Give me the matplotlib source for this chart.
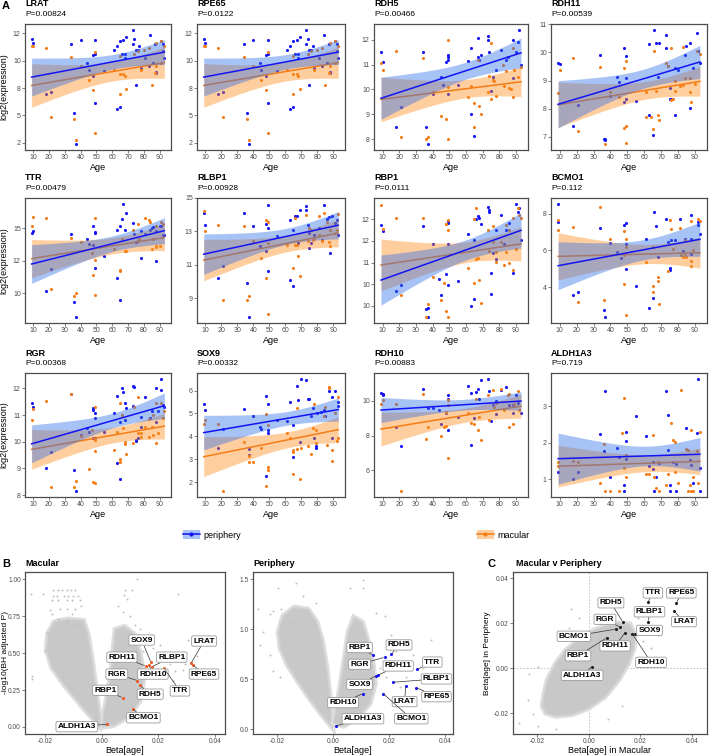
import numpy as np
import matplotlib
matplotlib.use("Agg")
import matplotlib.pyplot as plt
from matplotlib.patches import Patch, Polygon
from matplotlib.lines import Line2D

plt.rcParams['font.family'] = ['Liberation Sans', 'DejaVu Sans']
plt.rcParams['axes.unicode_minus'] = False

# ───────────────── data: age scatter panels (age, log2 expression) ─────────────────
LRAT_PERI = [(9,11.6),(10,11.3),(18,7.55),(21,7.7),(34,11.2),(36,6.2),(37,3.9),(40,11.5),(44,9.8),(45,9.3),
             (48,10.4),(48,8.9),(49,10.5),(49,11.5),(49,6.9),(55,9.25),(61,10.75),(63,11.1),(63,6.45),(65,11.4),
             (65,6.6),(66,10.5),(67,11.5),(68,10.45),(68,10.2),(69,11.7),(73,12.25),(73,11.2),(74,11.6),(75,10.8),
             (75,8.2),(76,10.75),(77,11.05),(78,9.45),(81,10.2),(83,9.6),(84,11.9),(86,9.85),(87,11.2),(88,9.2),
             (88,9.1),(91,11.45),(92,11.2),(92,10.7),(93,10.2)]
LRAT_MAC = [(9,11.1),(10,11.05),(18,10.95),(21,5.9),(34,10.25),(36,5.75),(37,4.2),(40,9.6),(45,8.55),(48,7.85),
            (49,10.6),(49,4.75),(61,9.3),(65,10.35),(65,9.0),(65,7.6),(67,9.0),(68,8.9),(69,7.9),(74,10.45),
            (76,10.7),(78,9.35),(80,10.75),(83,10.95),(85,8.2),(87,9.1),(88,11.3),(88,9.6),(91,9.8),(91,11.45),(93,11.1)]
RPE65_PERI = LRAT_PERI
RPE65_MAC = LRAT_MAC
RDH5_PERI = [(9,11.5),(10,11.1),(18,8.5),(21,9.3),(34,11.5),(36,8.5),(37,7.8),(40,9.8),(45,10.5),(46,10.2),
             (48,11.1),(49,11.4),(49,11.3),(49,11.2),(49,9.8),(55,10.2),(61,11.15),(63,11.65),(63,9.0),(65,8.15),
             (67,12.05),(67,11.3),(68,11.2),(69,11.4),(73,12.15),(73,12.0),(74,11.5),(75,9.95),(76,10.5),(78,10.8),
             (81,11.6),(84,11.2),(85,11.3),(88,12.0),(88,10.45),(90,11.5),(91,11.9),(92,12.4),(93,11.0)]
RDH5_MAC = [(9,11.05),(10,10.8),(18,11.55),(21,8.1),(34,11.25),(36,8.0),(37,8.1),(40,9.9),(45,8.95),(48,8.8),
            (49,12.0),(49,8.0),(49,10.1),(61,9.7),(63,10.15),(65,9.45),(65,8.5),(67,11.2),(68,9.35),(69,9.0),
            (73,9.9),(74,10.55),(75,11.85),(75,9.6),(76,10.4),(77,10.35),(78,9.75),(82,11.0),(83,10.15),(84,10.75),
            (86,10.05),(87,10.0),(88,9.7),(88,11.65),(89,10.8),(91,10.5),(93,10.9)]
RDH11_PERI = [(9,9.62),(10,9.58),(18,7.4),(21,8.14),(34,9.92),(36,6.92),(37,6.92),(37,6.9),(40,8.45),(44,9.14),
              (45,8.96),(48,10.16),(48,8.24),(49,9.86),(49,9.1),(49,8.33),(55,8.26),(63,10.28),(63,7.76),(65,7.07),
              (66,10.8),(67,10.34),(68,9.14),(69,10.34),(73,10.6),(73,10.16),(74,9.52),(75,8.72),(75,8.36),(76,8.33),
              (78,9.44),(78,7.78),(80,9.38),(84,9.9),(85,10.22),(87,10.32),(87,8.02),(89,9.44),(91,10.7),(92,10.04),(93,9.62)]
RDH11_MAC = [(9,8.57),(10,9.38),(18,9.8),(21,7.22),(34,9.47),(37,6.74),(40,8.6),(45,8.42),(48,9.46),(48,7.33),
             (49,7.37),(49,9.7),(49,6.8),(61,8.6),(61,7.72),(64,7.7),(65,7.27),(66,10.06),(67,8.62),(68,7.76),
             (69,7.6),(73,9.62),(74,9.52),(76,10.14),(76,8.3),(77,8.36),(78,8.98),(78,8.62),(81,8.8),(83,8.84),
             (83,10.18),(84,9.08),(87,9.08),(87,8.6),(88,8.24),(90,8.86),(91,10.06),(93,9.94)]
TTR_PERI = [(9,13.7),(10,13.8),(18,10.15),(21,11.5),(34,13.65),(36,9.45),(37,8.52),(44,13.35),(45,13.05),(48,14.15),
            (48,12.95),(49,13.75),(49,13.7),(49,11.55),(55,12.3),(63,13.9),(63,10.95),(65,14.15),(65,9.6),(66,14.55),
            (67,15.5),(68,13.9),(69,14.95),(73,14.33),(74,13.65),(75,13.15),(76,13.2),(78,13.85),(78,12.15),(81,13.65),
            (84,13.9),(85,14.0),(86,14.05),(88,11.95),(88,13.85),(90,14.1),(91,14.15),(92,13.55),(93,13.6)]
TTR_MAC = [(9,14.1),(10,14.7),(18,14.65),(21,10.25),(34,13.4),(36,9.85),(37,10.0),(40,13.15),(47,12.5),(48,11.1),
           (49,14.6),(49,12.05),(49,9.9),(61,12.7),(65,11.35),(65,11.4),(66,13.35),(68,12.6),(69,12.6),(73,13.9),
           (76,13.2),(76,14.25),(77,13.35),(81,14.65),(83,14.5),(84,14.35),(85,12.7),(86,13.35),(88,12.93),(88,12.85),
           (88,14.1),(90,12.9),(91,14.35),(92,14.25)]
RLBP1_PERI = [(9,14.1),(10,13.4),(18,10.2),(21,10.95),(34,14.1),(36,9.9),(37,7.85),(40,13.3),(44,12.1),(48,11.8),
              (48,13.45),(49,13.2),(49,14.6),(49,10.6),(55,12.7),(63,13.7),(63,10.1),(65,13.1),(65,9.75),(66,13.9),
              (67,13.9),(68,12.3),(69,14.3),(73,14.5),(73,14.3),(74,13.4),(75,12.9),(75,12.0),(76,12.3),(78,12.8),
              (81,13.2),(83,12.5),(84,14.6),(86,13.75),(87,13.85),(88,11.7),(89,13.9),(91,13.5),(92,13.7),(93,12.8)]
RLBP1_MAC = [(9,14.25),(10,13.05),(18,13.4),(21,8.9),(34,13.3),(36,8.9),(37,9.15),(40,12.4),(45,11.4),(48,10.2),
             (48,13.7),(49,13.55),(49,8.05),(49,12.3),(61,12.2),(65,10.8),(66,12.2),(66,13.8),(67,12.2),(68,11.5),
             (69,10.3),(73,14.0),(74,12.4),(75,13.2),(76,13.1),(77,12.5),(78,12.6),(81,13.9),(81,12.8),(83,12.4),
             (84,14.1),(86,13.55),(87,12.35),(88,12.1),(88,13.1),(91,12.9),(92,13.1),(93,14.05)]
RBP1_PERI = [(9,12.75),(10,12.46),(18,9.68),(21,9.97),(34,12.7),(36,8.86),(37,8.88),(37,8.47),(40,11.84),(44,10.25),
             (45,9.52),(48,10.47),(49,12.92),(49,12.83),(49,11.87),(49,9.97),(55,10.14),(61,12.3),(63,8.97),(65,9.32),
             (65,12.06),(66,13.0),(67,13.14),(68,13.07),(69,12.8),(73,13.57),(74,13.45),(74,13.32),(75,10.51),(75,9.55),
             (76,11.44),(78,12.52),(78,11.15),(81,13.19),(83,11.87),(84,12.52),(86,12.83),(88,10.51),(90,13.72),
             (91,13.32),(92,13.5),(93,12.04)]
RBP1_MAC = [(9,13.65),(10,12.54),(18,13.06),(21,9.52),(34,13.06),(36,8.47),(37,9.09),(40,10.33),(45,9.25),(47,10.05),
            (48,12.8),(48,12.77),(48,8.78),(49,12.95),(49,12.49),(49,8.5),(61,10.75),(65,13.03),(65,10.05),(66,13.5),
            (66,11.18),(67,11.2),(68,10.2),(69,9.14),(73,12.5),(74,11.53),(76,12.69),(76,11.95),(78,11.49),(78,11.02),
            (81,11.95),(83,10.9),(84,12.72),(84,11.49),(86,10.97),(86,12.49),(88,13.08),(88,10.67),(90,11.64),
            (91,13.54),(92,13.22),(93,13.08)]
BCMO1_PERI = [(9,8.55),(9,7.55),(18,3.6),(21,3.76),(34,7.2),(36,2.78),(37,2.36),(40,6.42),(44,5.9),(46,5.6),
              (48,7.4),(49,7.5),(49,6.36),(49,5.0),(55,4.04),(61,6.64),(63,2.85),(65,3.42),(66,8.1),(67,7.36),
              (68,5.64),(73,7.7),(74,6.45),(75,5.05),(75,4.95),(76,6.58),(78,6.55),(81,7.73),(83,5.96),(84,6.64),
              (88,7.96),(88,5.82),(88,6.6),(92,7.55),(92,7.4),(93,6.9)]
BCMO1_MAC = [(9,7.67),(9,7.13),(18,7.27),(21,3.18),(34,8.36),(36,3.3),(40,6.6),(48,5.76),(48,4.18),(48,7.04),
             (49,6.64),(49,2.51),(49,6.18),(61,5.36),(65,4.04),(65,3.73),(65,6.18),(68,4.58),(68,4.36),(69,3.1),
             (74,4.9),(75,7.64),(76,7.18),(77,6.1),(81,7.24),(82,5.73),(83,5.67),(84,6.58),(84,5.73),(85,5.67),
             (88,7.6),(88,5.42),(88,5.15),(89,6.0),(92,7.73),(93,7.6)]
RGR_PERI = [(9,11.46),(10,11.31),(18,9.0),(21,9.63),(34,11.78),(36,8.95),(37,8.14),(40,10.26),(44,10.5),(45,10.36),
            (48,11.25),(48,11.19),(48,10.13),(49,11.07),(49,10.88),(49,10.13),(55,10.36),(61,11.09),(63,11.71),(63,9.2),
            (65,8.6),(65,10.75),(66,12.0),(67,11.88),(68,11.44),(68,10.82),(69,11.25),(73,12.11),(73,11.34),(74,12.04),
            (75,10.07),(75,10.03),(76,10.13),(78,10.94),(78,10.57),(81,11.69),(84,10.88),(85,11.17),(88,12.02),
            (88,10.75),(89,11.17),(91,12.37),(91,11.94),(92,11.38),(93,11.29)]
RGR_MAC = [(9,10.82),(10,11.23),(18,11.53),(21,8.32),(34,11.81),(36,8.32),(37,8.53),(40,10.23),(45,8.97),(47,10.44),
           (48,8.51),(49,8.47),(49,11.29),(49,9.67),(49,10.07),(61,9.69),(63,10.38),(65,9.35),(65,9.26),(65,11.44),
           (66,11.0),(67,10.5),(68,10.0),(68,9.92),(69,9.53),(73,9.97),(74,11.32),(76,11.69),(76,10.32),(78,10.34),
           (78,10.19),(81,10.57),(83,10.19),(83,10.84),(85,10.57),(86,10.26),(86,11.0),(88,9.97),(88,11.44),
           (89,10.32),(91,11.44),(92,10.88),(93,11.17)]
SOX9_PERI = [(9,5.43),(10,5.13),(18,3.49),(21,4.31),(34,5.18),(37,3.2),(37,3.43),(40,4.88),(44,4.39),(45,4.33),
             (48,5.78),(48,2.27),(49,5.4),(49,4.28),(49,4.13),(55,4.7),(61,4.66),(63,5.51),(65,3.12),(65,4.48),
             (67,6.18),(68,5.6),(69,3.76),(70,6.52),(73,6.48),(74,5.63),(75,5.63),(76,4.88),(77,5.22),(78,3.91),
             (79,3.58),(79,3.5),(80,5.03),(82,5.07),(84,5.13),(85,4.88),(87,5.97),(89,5.73),(89,3.94),(91,5.97),
             (93,5.33),(93,5.52)]
SOX9_MAC = [(9,4.54),(10,4.73),(18,4.54),(21,1.6),(34,3.76),(37,2.87),(37,3.16),(40,2.9),(45,3.49),(48,4.99),
            (48,1.85),(49,2.67),(49,2.52),(49,4.51),(61,4.13),(63,3.91),(65,3.42),(65,3.31),(65,2.34),(67,5.22),
            (67,3.46),(69,2.12),(70,3.49),(74,3.58),(76,3.21),(77,4.36),(78,5.43),(79,4.28),(79,3.69),(84,4.88),
            (85,5.3),(86,3.61),(87,6.15),(87,6.12),(89,3.39),(89,2.94),(91,5.03),(92,3.81),(93,5.73),(93,3.91)]
RDH10_PERI = [(9,10.48),(10,10.38),(10,10.36),(18,8.48),(21,7.41),(34,10.7),(37,9.6),(40,9.62),(44,9.47),(45,8.67),
              (48,9.28),(49,10.36),(49,10.13),(49,8.32),(55,9.09),(61,10.84),(63,10.46),(63,7.47),(65,8.99),(66,10.51),
              (67,10.7),(68,10.13),(69,11.18),(73,11.28),(74,10.57),(75,8.86),(76,9.75),(78,9.98),(78,9.24),(81,10.61),
              (84,10.8),(86,9.75),(88,9.75),(88,9.31),(90,10.32),(91,9.89),(93,9.28)]
RDH10_MAC = [(9,9.85),(10,10.08),(18,9.85),(21,4.8),(34,10.38),(36,7.81),(37,8.51),(45,7.98),(47,8.48),(48,8.55),
             (48,9.37),(49,10.04),(49,9.75),(49,6.7),(61,9.31),(63,8.74),(65,8.7),(66,10.13),(67,8.32),(68,9.09),
             (69,7.75),(73,10.36),(74,8.93),(76,10.65),(77,9.66),(78,9.9),(81,10.67),(83,9.47),(85,10.32),(86,8.51),
             (86,10.38),(88,8.67),(89,9.85),(91,10.57),(92,9.5)]
ALDH1A3_PERI = [(9,1.21),(18,1.0),(21,1.21),(34,2.24),(36,1.77),(37,3.42),(40,1.07),(44,1.85),(45,1.6),(48,0.85),
                (48,0.67),(49,2.3),(49,2.05),(49,1.55),(55,2.74),(61,2.18),(63,1.35),(65,1.48),(65,1.27),(66,0.67),
                (67,1.07),(69,1.44),(73,3.42),(74,1.8),(74,2.75),(75,0.85),(75,0.67),(77,1.48),(79,1.41),(79,0.67),
                (85,2.41),(87,1.53),(88,1.39),(89,0.91),(91,2.27),(92,3.75),(93,1.32),(93,0.67)]
ALDH1A3_MAC = [(9,1.48),(9,1.35),(18,1.51),(21,1.48),(34,0.91),(36,1.96),(37,0.67),(40,0.67),(45,0.67),(47,2.27),
               (48,3.21),(48,1.3),(49,1.07),(49,1.66),(61,1.14),(63,1.14),(65,2.21),(66,1.05),(67,0.75),(68,1.48),
               (69,0.67),(73,0.85),(74,1.14),(76,2.53),(77,2.07),(78,2.01),(78,1.21),(80,0.91),(82,3.45),(85,1.83),
               (86,1.8),(86,0.67),(87,0.85),(88,0.67),(89,0.67),(88,2.36),(89,1.07),(91,1.77),(92,0.91),(93,2.3)]

GENES = ['LRAT', 'RPE65', 'RDH5', 'RDH11', 'TTR', 'RLBP1', 'RBP1', 'BCMO1',
         'RGR', 'SOX9', 'RDH10', 'ALDH1A3']
PVALS = ['P=0.00824', 'P=0.0122', 'P=0.00466', 'P=0.00539', 'P=0.00479', 'P=0.00928',
         'P=0.0111', 'P=0.112', 'P=0.00368', 'P=0.00332', 'P=0.00883', 'P=0.719']
YTICKS = [[12, 10, 8, 6, 4], [12, 10, 8, 6, 4], [12, 11, 10, 9, 8], [11, 10, 9, 8, 7],
          [14, 12, 10], [15, 13, 11, 9], [13, 12, 11, 10, 9], [8, 6, 4],
          [12, 11, 10, 9, 8], [6, 5, 4, 3, 2], [10, 8, 6], [3, 2, 1]]
YTICKLABELS = [['12', '10', '8', '5', '2'], ['12', '10', '8', '5', '2'], ['12', '11', '10', '9', '8'],
               ['11', '10', '9', '8', '7'], ['15', '12', '10'], ['15', '13', '11', '9'],
               ['12', '12', '11', '10', '10'], ['8', '6', '4'], ['12', '11', '10', '9', '8'],
               ['6', '5', '4', '3', '2'], ['10', '8', '6'], ['3', '2', '1']]
AGE_TICKS = [10, 20, 30, 40, 50, 60, 70, 80, 90]

# ───────────────── data: panel B / C (beta, -log10 p) ─────────────────
HL_GENES = ['LRAT', 'RPE65', 'SOX9', 'RDH11', 'RLBP1', 'RDH10', 'TTR', 'RGR', 'RDH5', 'RBP1', 'BCMO1', 'ALDH1A3']
MAC_BETA = [0.0315, 0.0321, 0.0173, 0.0155, 0.0176, 0.0167, 0.0220, 0.0126, 0.0135, 0.0074, 0.0110, 0.0020]
MAC_LOGP = [0.431, 0.420, 0.440, 0.413, 0.407, 0.418, 0.396, 0.314, 0.281, 0.198, 0.121, 0.018]
PER_BETA = [0.0260, 0.0298, 0.0155, 0.0161, 0.0215, 0.0107, 0.0302, 0.0185, 0.0209, 0.0143, 0.0179, 0.0010]
PER_LOGP = [0.430, 0.416, 0.536, 0.542, 0.470, 0.357, 0.600, 0.721, 0.753, 0.740, 0.357, 0.032]
C_MAC = [0.0330, 0.0339, 0.0178, 0.0140, 0.0231, 0.0169, 0.0229, 0.0121, 0.0131, 0.0070, 0.0105, 0.0013]
C_PER = [0.0254, 0.0290, 0.0152, 0.0157, 0.0207, 0.0152, 0.0294, 0.0183, 0.0207, 0.0135, 0.0174, 0.0007]

# dense grey clouds (outlines) and sparse background genes
MAC_CLOUD_L = [(-0.0006,0.0),(-0.007,0.14),(-0.013,0.28),(-0.0175,0.40),(-0.0195,0.52),(-0.019,0.63),
               (-0.0168,0.71),(-0.012,0.73),(-0.0065,0.72),(-0.0048,0.62),(-0.0032,0.42),(-0.0017,0.2),(-0.0003,0.02)]
MAC_CLOUD_R = [(0.0003,0.0),(0.0008,0.1),(0.0024,0.25),(0.0035,0.4),(0.0042,0.55),(0.0048,0.66),(0.008,0.68),
               (0.0112,0.63),(0.0135,0.5),(0.0148,0.34),(0.0135,0.18),(0.0095,0.07),(0.004,0.01)]
MAC_BG_X = [-0.0249,-0.0208,-0.0173,-0.0156,-0.0140,-0.0124,-0.0109,-0.0093,-0.0173,-0.0159,-0.0133,-0.0118,
            -0.0102,-0.0085,-0.0176,-0.0153,-0.0124,-0.0106,-0.0076,-0.0182,-0.0147,-0.0124,-0.0094,-0.0073,
            -0.0176,-0.0106,-0.0153,-0.0124,-0.0088,-0.0247,-0.0247,-0.0200,-0.0194,0.0082,0.0106,0.0124,
            0.0080,0.0088,0.0059,0.0076,0.0100,0.0268,0.0306,0.0335,0.0294,0.0286,0.0253,0.0241,0.0206,
            0.0182,0.0194,0.0224,0.0276,0.0229,0.0259,0.0182,0.0147,0.0165,0.0118,0.0135]
MAC_BG_Y = [0.903,0.903,0.930,0.930,0.930,0.930,0.930,0.930,0.890,0.890,0.890,0.890,0.890,0.890,0.859,
            0.859,0.859,0.859,0.859,0.793,0.798,0.802,0.802,0.820,0.765,0.765,0.732,0.710,0.688,0.347,0.325,
            0.512,0.644,0.930,0.930,1.000,0.897,0.864,0.820,0.776,0.754,0.903,0.589,0.479,0.424,0.385,0.314,
            0.424,0.556,0.534,0.490,0.457,0.501,0.358,0.380,0.336,0.512,0.622,0.688,0.666]
PER_CLOUD_L = [(-0.0002,0.016),(-0.0045,0.162),(-0.0088,0.325),(-0.0127,0.487),(-0.0163,0.649),(-0.0188,0.812),
               (-0.0195,0.974),(-0.0178,1.136),(-0.0138,1.22),(-0.0089,1.2),(-0.0058,1.07),(-0.0038,0.877),
               (-0.0023,0.617),(-0.001,0.292),(-0.0004,0.065)]
PER_CLOUD_R = [(0.0002,0.065),(0.0018,0.292),(0.0033,0.552),(0.0045,0.779),(0.0055,0.974),(0.0075,1.12),
               (0.0105,1.07),(0.0125,0.877),(0.0143,0.649),(0.015,0.455),(0.0132,0.26),(0.0088,0.114),(0.0038,0.032)]
PER_BG_X = [-0.0196,-0.0131,0.0060,0.0107,0.0107,-0.0107,-0.0060,-0.0214,-0.0185,-0.0226,-0.0155,0.0155,
            0.0185,0.0208,0.0226,0.0250,0.0286,0.0321,0.0351,0.0327,0.0226,0.0179,0.0167,0.0190,0.0238,
            0.0262,-0.0268,-0.0262,-0.0250,-0.0226,-0.0214,-0.0190]
PER_BG_Y = [1.412,1.461,1.412,1.494,1.412,1.331,1.266,1.185,1.201,1.153,1.071,1.169,1.136,0.942,0.779,
            0.682,0.747,0.617,0.893,0.341,0.227,0.357,0.617,0.519,0.422,0.519,1.201,0.844,0.974,0.747,0.584,0.519]
C_CLOUD = [(-0.0178,-0.017),(-0.0171,-0.0112),(-0.0159,-0.0054),(-0.0127,0.0019),(-0.0089,0.0077),
           (-0.0038,0.0128),(0.0013,0.0164),(0.0063,0.0186),(0.0114,0.02),(0.0159,0.0196),(0.0178,0.0149),
           (0.0175,0.0091),(0.0152,0.0019),(0.0114,-0.0054),(0.0063,-0.0126),(0.0,-0.0177),(-0.0063,-0.0206),
           (-0.0127,-0.0213),(-0.0165,-0.0199)]
C_BG_X = [-0.0235,-0.0216,-0.0197,-0.0267,-0.0127,0.0190,0.0216,0.0210,0.0241,0.0267,0.0178,-0.0038,
          -0.0076,0.0076,0.0127,-0.0229,-0.0197,-0.0070]
C_BG_Y = [-0.0141,-0.0206,-0.0257,-0.0242,-0.0271,0.0222,0.0186,0.0120,0.0091,0.0149,0.0265,0.0222,
          0.0178,-0.0228,-0.0170,-0.0025,0.0004,0.0265]

# label placement (layout, not data)
MAC_LAB = [(0.0361,0.582),(0.0361,0.358),(0.0141,0.589),(0.0071,0.473),(0.0247,0.473),(0.0180,0.358),
           (0.0276,0.244),(0.0053,0.358),(0.0171,0.222),(0.0012,0.248),(0.0147,0.062),(-0.0088,0.002)]
PER_LAB = [(0.0256,0.276),(0.0370,0.325),(0.0095,0.448),(0.0233,0.633),(0.0370,0.503),(0.0036,0.266),
           (0.0355,0.672),(0.0095,0.649),(0.0236,0.844),(0.0095,0.818),(0.0280,0.104),(0.0107,0.104)]
C_LAB = [(0.0368,0.0207),(0.0358,0.0335),(0.0235,0.0168),(0.0102,0.0099),(0.0235,0.0251),(0.0241,0.0026),
         (0.0248,0.0335),(0.0063,0.0217),(0.0086,0.0291),(-0.0041,0.0055),(-0.0057,0.0142),(-0.0025,-0.0032)]

# ───────────────── style ─────────────────
BLUE, ORANGE = '#1414f5', '#f47d18'
BLUE_FILL, ORANGE_FILL = '#2f6fe6', '#ff8c1a'
FRAME, TXT = '#4d4d4d', '#4d4d4d'
W, H = 709, 756

fig = plt.figure(figsize=(W/100, H/100), dpi=100)

def add_ax(l, t, r, b):
    return fig.add_axes([l/W, 1 - b/H, (r - l)/W, (b - t)/H])

def style(ax, size=5):
    for s in ax.spines.values():
        s.set_color(FRAME); s.set_linewidth(0.9)
    ax.tick_params(direction='out', length=2, width=0.5, color=FRAME,
                   labelsize=size, labelcolor=TXT, pad=1)

def ylab_at(ax, text, x_px, l, r, size=6.5):
    ax.set_ylabel(text, fontsize=size)
    ax.yaxis.set_label_coords((x_px - l) / (r - l), 0.5)

def fit_band(pts, xs):
    x = np.array([p[0] for p in pts], float); y = np.array([p[1] for p in pts], float)
    n = len(x); m, b = np.polyfit(x, y, 1)
    s = np.sqrt(((y - (b + m*x))**2).sum() / (n - 2))
    se = s * np.sqrt(1/n + (xs - x.mean())**2 / ((x - x.mean())**2).sum())
    yh = b + m*xs
    return yh, yh - 2.02*se, yh + 2.02*se

COLS = [(25, 171), (197, 345), (374, 528), (551, 707)]
ROWS = [(24, 150), (198, 323), (373, 497)]

for i, g in enumerate(GENES):
    peri, mac = globals()[g + '_PERI'], globals()[g + '_MAC']
    (l, r), (t, b) = COLS[i % 4], ROWS[i // 4]
    ax = add_ax(l, t, r, b); style(ax)
    xs = np.linspace(min(p[0] for p in peri + mac), max(p[0] for p in peri + mac), 80)
    ax.scatter([p[0] for p in peri], [p[1] for p in peri], s=5, c=BLUE, lw=0, zorder=2)
    ax.scatter([p[0] for p in mac], [p[1] for p in mac], s=5, c=ORANGE, lw=0, zorder=2)
    allv = [p[1] for p in peri + mac]
    for pts, fc, lc, z in ((mac, ORANGE_FILL, ORANGE, 3), (peri, BLUE_FILL, BLUE, 4)):
        yh, lo, hi = fit_band(pts, xs)
        ax.fill_between(xs, lo, hi, color=fc, alpha=0.42, lw=0, zorder=z)
        ax.plot(xs, yh, c=lc, lw=1.1, zorder=z)
        allv += list(lo) + list(hi)
    span = max(allv) - min(allv)
    ax.set_ylim(min(allv) - .05*span, max(allv) + .05*span)
    ax.set_xlim(4.8, 97.2)
    ax.set_xticks(AGE_TICKS)
    ax.set_yticks(YTICKS[i]); ax.set_yticklabels(YTICKLABELS[i])
    ax.set_xlabel('Age', fontsize=6.5, labelpad=1, color='black')
    if i % 4 == 0:
        ylab_at(ax, 'log2(expression)', 8, l, r)
    fig.text(l/W, 1 - (t - 20)/H, g, fontsize=6.5, fontweight='bold', va='center')
    fig.text(l/W, 1 - (t - 9)/H, PVALS[i], fontsize=6, va='center')

fig.text(2/W, 1 - 6/H, 'A', fontsize=8, fontweight='bold', va='center')

# legend
for label, fc, lc, x in (('periphery', BLUE_FILL, BLUE, 212), ('macular', ORANGE_FILL, ORANGE, 503)):
    h = (Patch(facecolor=fc, alpha=0.42, lw=0), Line2D([], [], color=lc, lw=1.1, marker='o', ms=2))
    fig.legend([h], [label], loc='center', bbox_to_anchor=(x/W, 1 - 535/H), frameon=False,
               fontsize=6.5, handlelength=1.9, handleheight=1.1, handletextpad=0.4, borderpad=0)

# ───────────────── panel B / C ─────────────────
def label_points(ax, xs, ys, labs, col):
    ax.scatter(xs, ys, s=5, c=col, lw=0, zorder=4)
    for g, x, y, (lx, ly) in zip(HL_GENES, xs, ys, labs):
        ax.annotate(g, xy=(x, y), xytext=(lx, ly), textcoords='data', ha='center', va='center',
                    fontsize=6, fontweight='bold', zorder=5,
                    arrowprops=dict(arrowstyle='-', color='#333333', lw=0.5, shrinkA=0, shrinkB=1),
                    bbox=dict(boxstyle='round,pad=0.2', fc='white', ec='#9a9a9a', lw=0.6))

def cloud(ax, polys, bx, by):
    for poly in polys:
        ax.add_patch(Polygon(poly, closed=True, fc='#d9d9d9', ec='#dedede', lw=4, zorder=1))
        ax.add_patch(Polygon(poly, closed=True, fc='#c8c8c8', ec='#cfcfcf', lw=1, zorder=1))
    ax.scatter(bx, by, s=2, c='#bdbdbd', lw=0, zorder=1)

BETA_TICKS = [-0.02, 0.0, 0.02, 0.04]
BB, BT = 734, 572

axm = add_ax(25, BT, 225, BB); style(axm, 4.8)
cloud(axm, [MAC_CLOUD_L, MAC_CLOUD_R], MAC_BG_X, MAC_BG_Y)
label_points(axm, MAC_BETA, MAC_LOGP, MAC_LAB, '#ee5a24')
axm.set_xlim(-0.0271, 0.0435); axm.set_ylim(-0.048, 1.05)
axm.set_xticks(BETA_TICKS); axm.set_xticklabels(['-0.02', '0.00', '0.02', '0.04'])
axm.set_yticks([0, 0.25, 0.5, 0.75, 1.0]); axm.set_yticklabels(['0.00', '0.25', '0.50', '0.75', '1.00'])
axm.set_xlabel('Beta[age]', fontsize=6.5, labelpad=0.5)
ylab_at(axm, '-log10(BH adjusted P)', 9, 25, 225, 6)

axp = add_ax(253, BT, 453, BB); style(axp, 4.8)
cloud(axp, [PER_CLOUD_L, PER_CLOUD_R], PER_BG_X, PER_BG_Y)
label_points(axp, PER_BETA, PER_LOGP, PER_LAB, BLUE)
axp.set_xlim(-0.0286, 0.0429); axp.set_ylim(-0.049, 1.575)
axp.set_xticks(BETA_TICKS); axp.set_xticklabels(['-0.02', '0.00', '0.02', '0.04'])
axp.set_yticks([0, 0.5, 1.0, 1.5]); axp.set_yticklabels(['0.0', '0.5', '1.0', '1.5'])
axp.set_xlabel('Beta[age]', fontsize=6.5, labelpad=0.5)

axc = add_ax(513, BT, 707, BB); style(axc, 4.8)
axc.axhline(0, color='#bbbbbb', lw=0.6, ls=(0, (2, 2)), zorder=0)
axc.axvline(0, color='#bbbbbb', lw=0.6, ls=(0, (2, 2)), zorder=0)
cloud(axc, [C_CLOUD], C_BG_X, C_BG_Y)
label_points(axc, C_MAC, C_PER, C_LAB, '#222222')
axc.set_xlim(-0.0292, 0.0457); axc.set_ylim(-0.0293, 0.0428)
axc.set_xticks(BETA_TICKS); axc.set_xticklabels(['-0.02', '0.00', '0.02', '0.04'])
axc.set_yticks([-0.02, 0.0, 0.02, 0.04]); axc.set_yticklabels(['-0.02', '0.00', '0.02', '0.04'])
axc.set_xlabel('Beta[age] in Macular', fontsize=6.5, labelpad=0.5)
ylab_at(axc, 'Beta[age] in Periphery', 491, 513, 707, 6)

fig.text(2/W, 1 - 564/H, 'B', fontsize=8, fontweight='bold', va='center')
fig.text(25/W, 1 - 564/H, 'Macular', fontsize=6.5, fontweight='bold', va='center')
fig.text(253/W, 1 - 564/H, 'Periphery', fontsize=6.5, fontweight='bold', va='center')
fig.text(487/W, 1 - 564/H, 'C', fontsize=8, fontweight='bold', va='center')
fig.text(516/W, 1 - 564/H, 'Macular v Periphery', fontsize=6.5, fontweight='bold', va='center')

fig.savefig('out.png', dpi=100)
